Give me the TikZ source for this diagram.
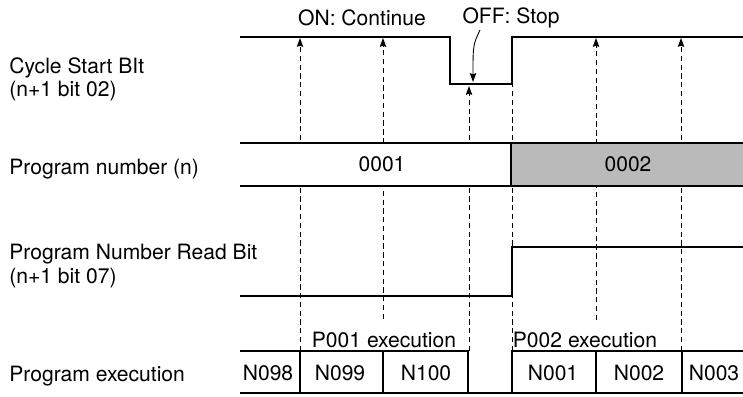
\documentclass[tikz,border=0pt]{standalone}
\usepackage{fontspec}
\setmainfont{TeX Gyre Heros}
\usetikzlibrary{arrows.meta, positioning, calc}

\begin{document}
\begin{tikzpicture}[x=0.02cm, y=-0.02cm, >={Stealth[length=5pt, width=3.6pt, inset=0.6pt]},
    font=\fontsize{12}{13.2}\selectfont,
    sig/.style={line width=1pt},
    guide/.style={line width=0.5pt, dash pattern=on 3pt off 2pt},
    lbl/.style={inner sep=0pt, anchor=west, align=left}]
    \useasboundingbox (0,0) rectangle (743,396);
    % Signal names
    \node[lbl] (csb) at (9,79) {Cycle Start BIt\\(n+1 bit 02)};
    \node[lbl] (pnum) at (9,169) {Program number (n)};
    \node[lbl] (prb) at (9,266) {Program Number Read Bit\\(n+1 bit 07)};
    \node[lbl] (pexe) at (9,376) {Program execution};
    % Top notes
    \node (on) at (362,18) {ON: Continue};
    \node (off) at (511,18) {OFF: Stop};
    % Guides (dashed)
    \draw[guide, ->] (300,351) -- (300,38);
    \draw[guide, ->] (383,319) -- (383,38);
    \draw[guide, ->] (469,351) -- (469,86);
    \draw[guide] (512,351) -- (512,84);
    \draw[guide, ->] (596,320) -- (596,38);
    \draw[guide, ->] (681,351) -- (681,38);
    % Cycle Start Bit
    \draw[sig] (240,37) -- (450,37) -- (450,84) -- (512,84) -- (512,37) -- (743,37);
    \coordinate (offtail) at (480,30);
    \coordinate (offtip) at (473,82);
    \draw[->, line width=0.5pt] (offtail) .. controls (473,45) .. (offtip);
    % Program number
    \fill[white] (240,143) rectangle (511,186);
    \fill[black!27] (511,143) rectangle (743,186);
    \draw[sig] (240,143) -- (743,143);
    \draw[sig] (240,186) -- (743,186);
    \draw[sig] (511,143) -- (511,186);
    \node (pn1) at (382,164.5) {0001};
    \node (pn2) at (628,164.5) {0002};
    % Program Number Read Bit
    \draw[sig] (240,296) -- (512,296) -- (512,247) -- (743,247);
    % Program execution
    \node (p1) at (384,340) {P001 execution};
    \node (p2) at (585,340) {P002 execution};
    \draw[sig] (468,393) -- (468,351) -- (240,351);
    \draw[sig] (512,393) -- (512,351) -- (743,351);
    \draw[sig] (240,393) -- (743,393);
    \draw[sig] (300,351) -- (300,393);
    \draw[sig] (383,351) -- (383,393);
    \draw[sig] (596,351) -- (596,393);
    \draw[sig] (682,351) -- (682,393);
    \node (n98) at (268,373) {N098};
    \node (n99) at (340,373) {N099};
    \node (n100) at (426,373) {N100};
    \node (n1) at (553,373) {N001};
    \node (n2) at (639,373) {N002};
    \node (n3) at (714,373) {N003};
\end{tikzpicture}
\end{document}
